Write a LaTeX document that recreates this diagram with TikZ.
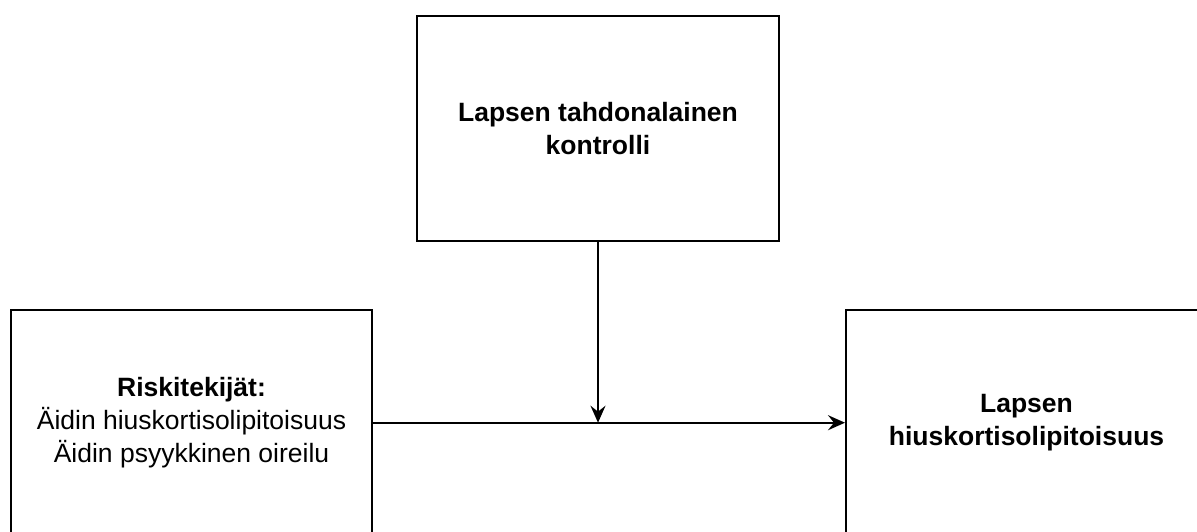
\documentclass[tikz,border=0pt]{standalone}
\usepackage{fontspec}
\setmainfont{Liberation Sans}
\usetikzlibrary{arrows.meta}
\begin{document}
\begin{tikzpicture}[x=1pt,y=-1pt,
  box/.style={draw=black,line width=2pt,fill=white,minimum width=361pt,
    minimum height=226.4pt,align=center,inner sep=0pt,
    font=\fontsize{26.5}{33}\selectfont},
  conn/.style={line width=2pt,-{Stealth[length=17pt,width=15pt,inset=6pt]}}]
\useasboundingbox (0,0) rectangle (1197,531);
\begin{scope}
\clip (0,0) rectangle (1197,531);
\node[box,minimum width=362pt,minimum height=224.7pt] (ctrl) at (598,128.3)
  {\textbf{Lapsen tahdonalainen}\\\textbf{kontrolli}};
\node[box] (risk) at (191.5,422.7)
  {\textbf{Riskitekijät:}\\Äidin hiuskortisolipitoisuus\\Äidin psyykkinen oireilu};
\node[box] (out) at (1026.5,422.7)
  {\textbf{Lapsen}\\\textbf{hiuskortisolipitoisuus}};
\end{scope}
\draw[conn] (risk.east) -- (out.west);
\draw[conn] (ctrl.south) -- (ctrl.south |- risk.east);
\end{tikzpicture}
\end{document}
